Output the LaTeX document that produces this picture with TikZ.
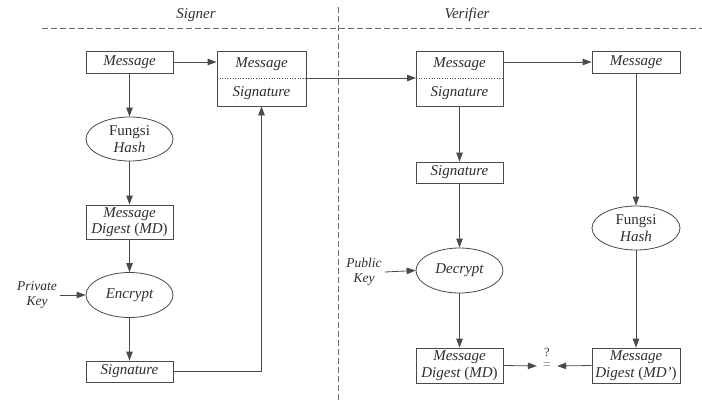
\documentclass[tikz,border=0pt]{standalone}
\usepackage{fontspec}
\setmainfont{Liberation Serif}
\usetikzlibrary{shapes.geometric,arrows.meta}
\definecolor{ln}{HTML}{4A4A4A}
\definecolor{tx}{HTML}{2E2E2E}
\begin{document}
\begin{tikzpicture}[x=1pt,y=-1pt,
  every node/.style={text=tx,font=\fontsize{15}{16.5}\selectfont\itshape},
  box/.style={draw=ln,line width=0.8pt,rectangle,minimum width=87pt,inner sep=0pt,align=center},
  oval/.style={draw=ln,line width=0.8pt,ellipse,minimum width=87pt,minimum height=44pt,inner sep=0pt,align=center},
  arr/.style={draw=ln,line width=0.8pt,-{Triangle[length=9pt,width=6.5pt]}},
  sep/.style={draw=ln!80,line width=0.8pt,dash pattern=on 5.5pt off 3.5pt},
  lbl/.style={font=\fontsize{13.5}{15}\selectfont\itshape,align=center,inner sep=0pt}
]
\useasboundingbox (0,0) rectangle (702,402);
% separators
\draw[sep] (42,28) -- (702,28);
\draw[sep] (338,7) -- (338,402);
\node (signer) at (196,15) {Signer};
\node (verifier) at (467,15) {Verifier};

% signer side
\node[box,minimum height=22pt] (msg1) at (129.5,62) {Message};
\node[oval] (hash1) at (129.5,139) {\upshape Fungsi\\Hash};
\node[box,minimum height=34pt] (md1) at (129.5,222) {Message\\Digest {\upshape(}MD{\upshape)}};
\node[oval,minimum height=45pt] (enc) at (129.5,295) {Encrypt};
\node[box,minimum height=21pt] (sig1) at (129.5,371.5) {Signature};
\node[lbl] (pk) at (37,295) {Private\\Key};

\node[box,minimum width=89pt,minimum height=55pt] (comb1) at (261.5,78.5) {};
\node (c1m) at (261.5,64) {Message};
\node (c1s) at (261.5,93) {Signature};
\coordinate (c1l) at (217,78);
\coordinate (c1r) at (306,78);
\draw[draw=ln,line width=0.6pt,dotted] (c1l) -- (c1r);

% verifier side
\node[box,minimum height=55pt] (comb2) at (459.5,78.5) {};
\node (c2m) at (459.5,64) {Message};
\node (c2s) at (459.5,93) {Signature};
\coordinate (c2l) at (416,78);
\coordinate (c2r) at (503,78);
\draw[draw=ln,line width=0.6pt,dotted] (c2l) -- (c2r);

\node[box,minimum width=88pt,minimum height=22pt] (msg2) at (636,62) {Message};
\node[box,minimum height=21pt] (sig2) at (459.5,172.5) {Signature};
\node[oval,minimum width=88pt] (hash2) at (636,228) {\upshape Fungsi\\Hash};
\node[oval,minimum height=45pt] (dec) at (459.5,270.5) {Decrypt};
\node[lbl] (pubk) at (364,272) {Public\\Key};
\node[box,minimum height=35pt] (md2) at (459.5,365.5) {Message\\Digest {\upshape(}MD{\upshape)}};
\node[box,minimum width=88pt,minimum height=35pt] (md3) at (636,365.5) {Message\\Digest {\upshape(}MD'{\upshape)}};
\node[inner sep=0pt,minimum width=20pt,text=tx!55,font=\fontsize{15}{16}\selectfont] (eq) at (547,366) {=};
\node[inner sep=0pt,font=\fontsize{12.5}{14}\selectfont] (qm) at (547,352) {?};

% connectors signer
\draw[arr] (msg1.east) -- (msg1.east -| comb1.west);
\draw[arr] (msg1) -- (hash1);
\draw[arr] (hash1) -- (md1);
\draw[arr] (md1) -- (enc);
\draw[arr] (enc) -- (sig1);
\draw[arr] (pk.east) ++(3pt,0) -- (enc.west);
\draw[arr] (sig1.east) -- (sig1.east -| comb1.south) -- (comb1.south);

% cross
\draw[arr] (c1r) -- (c2l);

% connectors verifier
\draw[arr] (msg2.west -| comb2.east) -- (msg2.west);
\draw[arr] (comb2) -- (sig2);
\draw[arr] (sig2) -- (dec);
\draw[arr] (dec) -- (md2);
\draw[arr] (msg2) -- (hash2);
\draw[arr] (hash2) -- (md3);
\draw[arr] (pubk.east) ++(3pt,0) -- (dec.west);
\draw[arr] (md2.east) -- (eq.west);
\draw[arr] (md3.west) -- (eq.east);
\end{tikzpicture}
\end{document}
